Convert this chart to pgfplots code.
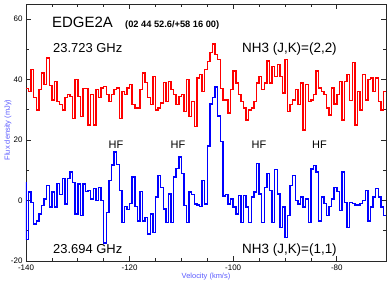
\documentclass[border=0pt]{standalone}
\usepackage{fontspec}
\setmainfont{Liberation Sans}
\usepackage{pgfplots}
\pgfplotsset{compat=1.18}
\usepackage{pgfplotstable}
\definecolor{lblblue}{RGB}{90,90,255}
\definecolor{axgray}{RGB}{40,40,40}
\definecolor{specred}{RGB}{255,0,0}
\definecolor{specblue}{RGB}{0,0,255}

\pgfplotstableread{
v y
-140 37
-139.5 36
-139 43.3
-138.5 34
-138 30
-137.5 36.7
-137 42.2
-136.5 38.3
-136 47.2
-135.5 38
-135 33.3
-134.5 39.4
-134 32.8
-133.5 31.7
-133 30
-132.5 34
-132 35
-131.5 34.4
-131 27.2
-130.5 40
-130 34.4
-129.5 27.8
-129 37
-128.5 37
-128 25
-127.5 35
-127 25
-126.5 36.7
-126 34
-125.5 37.2
-125 37.8
-124.5 35
-124 32.8
-123.5 35
-123 36.7
-122.5 37.2
-122 27.2
-121.5 36.1
-121 35
-120.5 37.2
-120 38.3
-119.5 31.7
-119 30.6
-118.5 30.6
-118 36.7
-117.5 42.2
-117 39
-116.5 34
-116 31.7
-115.5 41.1
-115 30
-114.5 30.6
-114 32.2
-113.5 39
-113 32.8
-112.5 39.4
-112 36.7
-111.5 35
-111 31.7
-110.5 34.4
-110 35
-109.5 29.4
-109 40
-108.5 27.8
-108 32.8
-107.5 24.4
-107 40.5
-106.5 41.7
-106 36
-105.5 43.3
-105 46
-104.5 49
-104 51.7
-103.5 48.3
-103 46.7
-102.5 37
-102 33.3
-101.5 33.3
-101 28.9
-100.5 36.7
-100 42.8
-99.5 38.9
-99 35
-98.5 32.8
-98 30.6
-97.5 26.7
-97 30
-96.5 30.6
-96 32.8
-95.5 38.9
-95 41.1
-94.5 36.7
-94 38.9
-93.5 46.1
-93 38.9
-92.5 44.4
-92 41.1
-91.5 45
-91 41.1
-90.5 35.6
-90 46.7
-89.5 29.4
-89 31.7
-88.5 33.3
-88 36.7
-87.5 31.7
-87 38.9
-86.5 23.3
-86 38.3
-85.5 32.8
-85 33.3
-84.5 35
-84 42.8
-83.5 37.2
-83 36.1
-82.5 35
-82 30.6
-81.5 28.3
-81 37.2
-80.5 32
-80 35
-79.5 39.4
-79 26.7
-78.5 39.4
-78 41.7
-77.5 33
-77 45.6
-76.5 25
-76 36
-75.5 30
-75 41.7
-74.5 33.3
-74 40
-73.5 40.5
-73 36
-72.5 40.5
-72 32.8
-71.5 30
-71 36
-70.5 36
}\redtab

\pgfplotstableread{
v y
-140.5 6
-140 -12.8
-139.5 2.8
-139 -0.6
-138.5 -7.8
-138 -6.7
-137.5 -4.4
-137 -1.7
-136.5 0.5
-136 5
-135.5 -2.2
-135 2.8
-134.5 -2.2
-134 5.6
-133.5 2
-133 7.2
-132.5 -1.1
-132 7.2
-131.5 9.4
-131 6
-130.5 -4.4
-130 5.5
-129.5 -5
-129 5.5
-128.5 3
-128 3.3
-127.5 0.5
-127 3.9
-126.5 0
-126 4.4
-125.5 0
-125 -14
-124.5 -4
-124 6.7
-123.5 11.7
-123 16
-122.5 12
-122 3.3
-121.5 -7.2
-121 -2
-120.5 -3
-120 -1
-119.5 7.8
-119 -2
-118.5 -6.7
-118 3
-117.5 -6.7
-117 -5.6
-116.5 -11
-116 -4.4
-115.5 -10.6
-115 1.1
-114.5 8.3
-114 4.4
-113.5 -2.8
-113 -7.2
-112.5 2.2
-112 -7.2
-111.5 7.8
-111 10.6
-110.5 14.4
-110 8.9
-109.5 -1.7
-109 -7.2
-108.5 2.8
-108 2
-107.5 -1.1
-107 -1.5
-106.5 -2
-106 6.7
-105.5 -1.1
-105 18
-104.5 32
-104 34
-103.5 37.5
-103 28
-102.5 19.5
-102 1.5
-101.5 2
-101 -1.1
-100.5 0.5
-100 -2.2
-99.5 -4.4
-99 1.7
-98.5 -7.2
-98 1.7
-97.5 -2.2
-97 -7.2
-96.5 1.1
-96 2.8
-95.5 12.3
-95 2.2
-94.5 -7.2
-94 4.4
-93.5 9
-93 3.3
-92.5 -7.2
-92 10.3
-91.5 2.2
-91 -8.9
-90.5 -2.2
-90 -12.2
-89.5 -5
-89 5
-88.5 8.3
-88 0
-87.5 -1.1
-87 1.1
-86.5 -2.2
-86 0.5
-85.5 -7.2
-85 10.5
-84.5 11.5
-84 9.5
-83.5 -6.7
-83 1.1
-82.5 -1
-82 -5
-81.5 -2
-81 0.5
-80.5 4.4
-80 3
-79.5 -3.3
-79 9.4
-78.5 -0.6
-78 -8.9
-77.5 -0.6
-77 -1
-76.5 -1.5
-76 -1.5
-75.5 -1
-75 0
-74.5 3.3
-74 -6.7
-73.5 -2.2
-73 1.1
-72.5 3.9
-72 1.1
-71.5 -2.2
-71 -5
-70.5 -5
}\bluetab

\begin{document}
\begin{tikzpicture}
\path[use as bounding box] (-26bp,-23bp) rectangle (366bp,261bp);
\begin{axis}[
  at={(0,0)}, anchor=south west,
  scale only axis, width=360bp, height=257bp,
  xmin=-140, xmax=-70.5, ymin=-20, ymax=65,
  axis line style={axgray, line width=0.8bp},
  xtick={-140,-120,-100,-80}, minor x tick num=3,
  ytick={-20,0,20,40,60}, minor y tick num=1,
  tick align=inside, major tick length=5bp, minor tick length=3bp,
  tick style={axgray, line width=0.7bp},
  xtick pos=both, ytick pos=both, xticklabel pos=lower, yticklabel pos=left,
  ticklabel style={font=\fontsize{8}{9}\selectfont},
  /pgf/number format/assume math mode=true,
  xlabel={Velocity (km/s)}, ylabel={Flux density (mJy)},
  label style={font=\fontsize{7.5}{9}\selectfont, text=lblblue},
  xlabel style={at={(axis description cs:0.5,-0.0623)}, anchor=center},
  ylabel style={at={(axis description cs:-0.05,0.51)}, anchor=center},
  clip mode=individual,
]
\addplot[const plot, draw=specred, line width=1.45bp, line join=miter] table[x=v,y=y]{\redtab};
\addplot[const plot, draw=specblue, line width=1.45bp, line join=miter] table[x=v,y=y]{\bluetab};
\node[anchor=base west, inner sep=0, font=\fontsize{15}{18}\selectfont] at (rel axis cs:0.0722,0.9105) {EDGE2A};
\node[anchor=base west, inner sep=0, font=\bfseries\fontsize{9.3}{11}\selectfont] at (rel axis cs:0.275,0.9078) {(02 44 52.6/+58 16 00)};
\node[anchor=base west, inner sep=0, font=\fontsize{13}{15}\selectfont] at (rel axis cs:0.075,0.8105) {23.723 GHz};
\node[anchor=base west, inner sep=0, font=\fontsize{13.5}{15}\selectfont] at (rel axis cs:0.6,0.813) {NH3 (J,K)=(2,2)};
\node[anchor=base west, inner sep=0, font=\fontsize{13}{15}\selectfont] at (rel axis cs:0.075,0.030) {23.694 GHz};
\node[anchor=base west, inner sep=0, font=\fontsize{13.5}{15}\selectfont] at (rel axis cs:0.6,0.031) {NH3 (J,K)=(1,1)};
\node[anchor=base, inner sep=0, font=\fontsize{11}{13}\selectfont] at (rel axis cs:0.25,0.437) {HF};
\node[anchor=base, inner sep=0, font=\fontsize{11}{13}\selectfont] at (rel axis cs:0.4222,0.437) {HF};
\node[anchor=base, inner sep=0, font=\fontsize{11}{13}\selectfont] at (rel axis cs:0.647,0.437) {HF};
\node[anchor=base, inner sep=0, font=\fontsize{11}{13}\selectfont] at (rel axis cs:0.815,0.437) {HF};
\end{axis}
\end{tikzpicture}
\end{document}
